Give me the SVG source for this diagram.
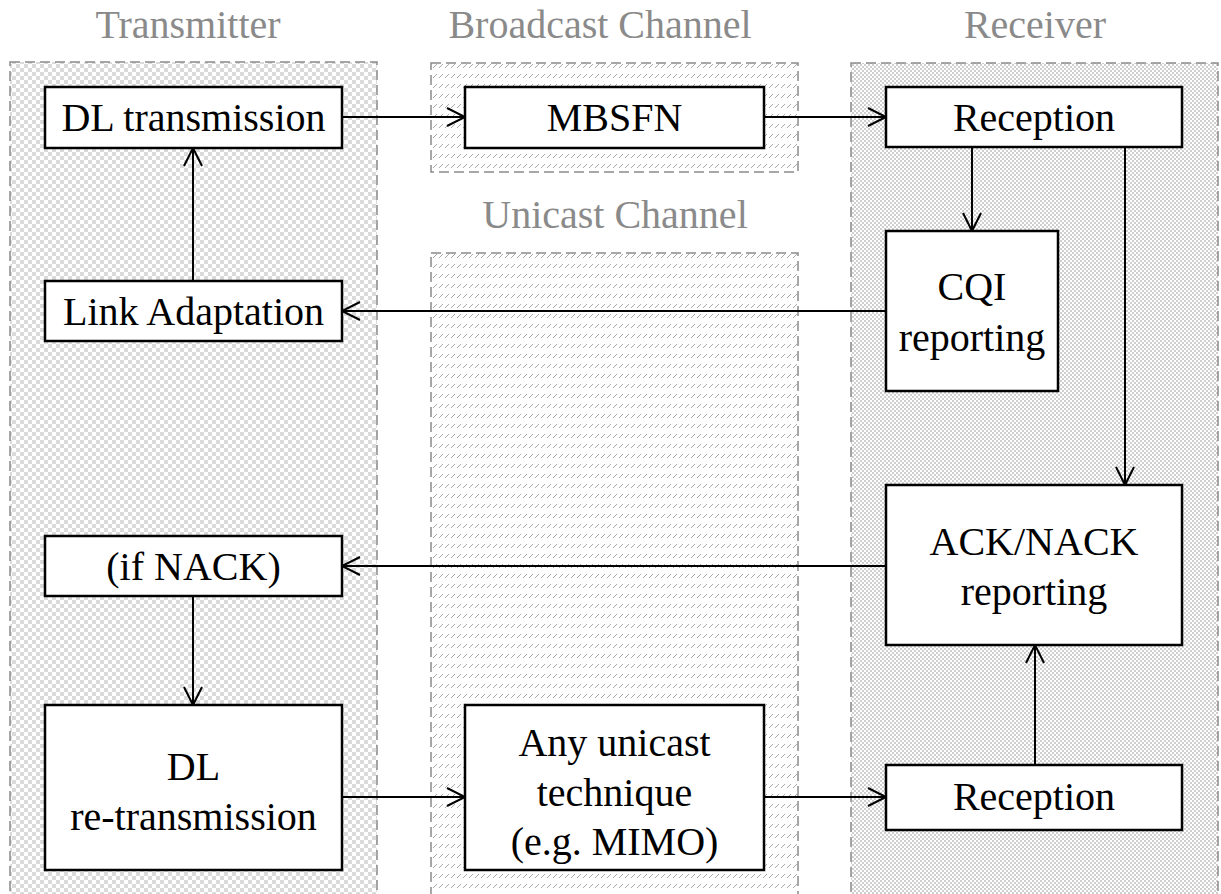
<svg xmlns="http://www.w3.org/2000/svg" width="1221" height="894" viewBox="0 0 1221 894">
<style>
.title{font-family:"Liberation Serif","Times New Roman","DejaVu Serif",serif;font-size:40px;fill:#8a8a8a;text-anchor:middle}
.lbl{font-family:"Liberation Serif","Times New Roman","DejaVu Serif",serif;font-size:40px;fill:#000;text-anchor:middle}
.box{fill:#fff;stroke:#000;stroke-width:2.5}
.cont{stroke:#8a8a8a;stroke-width:1.5;stroke-dasharray:10,5}
.conn{fill:none;stroke:#000;stroke-width:2;marker-end:url(#arr)}
</style>
<defs>
<pattern id="checker" width="8" height="8" patternUnits="userSpaceOnUse">
<rect width="8" height="8" fill="#fff"/>
<rect width="4" height="4" fill="#dadada"/>
<rect x="4" y="4" width="4" height="4" fill="#dadada"/>
</pattern>
<pattern id="hatch" width="6" height="10" patternUnits="userSpaceOnUse">
<rect width="6" height="10" fill="#fff"/>
<path d="M1,8 L5,4" stroke="#a8a8a8" stroke-width="1"/>
</pattern>
<pattern id="dots" width="4" height="4" patternUnits="userSpaceOnUse">
<rect width="4" height="4" fill="#fff"/>
<rect width="2" height="2" fill="#cfcfcf"/>
<rect x="2" y="2" width="2" height="2" fill="#cfcfcf"/>
</pattern>
<marker id="arr" markerWidth="24" markerHeight="24" refX="20" refY="10" orient="auto" markerUnits="userSpaceOnUse">
<path d="M2,1 L20,10 L2,19" fill="none" stroke="#000" stroke-width="2"/>
</marker>
</defs>
<rect width="1221" height="894" fill="#fff"/>

<g id="containers">
<rect class="cont" x="10" y="62" width="367" height="850" fill="url(#checker)"/>
<rect class="cont" x="431" y="63" width="367" height="109" fill="url(#hatch)"/>
<rect class="cont" x="431" y="253" width="367" height="660" fill="url(#hatch)"/>
<rect class="cont" x="851" y="63" width="367" height="850" fill="url(#dots)"/>
<text class="title" x="188" y="38">Transmitter</text>
<text class="title" x="600" y="38">Broadcast Channel</text>
<text class="title" x="1035" y="38">Receiver</text>
<text class="title" x="615" y="228">Unicast Channel</text>
</g>

<g id="connectors">
<path class="conn" d="M342,117 L465,117"/>
<path class="conn" d="M764,117 L886,117"/>
<path class="conn" d="M193,281 L193,148"/>
<path class="conn" d="M886,311 L342,311"/>
<path class="conn" d="M972,147 L972,231"/>
<path class="conn" d="M1125,147 L1125,485"/>
<path class="conn" d="M886,566 L342,566"/>
<path class="conn" d="M193,596 L193,705"/>
<path class="conn" d="M342,797 L465,797"/>
<path class="conn" d="M764,797 L886,797"/>
<path class="conn" d="M1035,765 L1035,645"/>
</g>

<g id="dl-transmission">
<rect class="box" x="45" y="87" width="297" height="61"/>
<text class="lbl" x="193.5" y="131">DL transmission</text>
</g>
<g id="link-adaptation">
<rect class="box" x="45" y="281" width="297" height="60"/>
<text class="lbl" x="193.5" y="325">Link Adaptation</text>
</g>
<g id="if-nack">
<rect class="box" x="45" y="536" width="297" height="60"/>
<text class="lbl" x="193.5" y="580">(if NACK)</text>
</g>
<g id="dl-retransmission">
<rect class="box" x="45" y="705" width="297" height="165"/>
<text class="lbl" x="193.5" y="780">DL</text>
<text class="lbl" x="193.5" y="830">re-transmission</text>
</g>
<g id="mbsfn">
<rect class="box" x="465" y="87" width="299" height="61"/>
<text class="lbl" x="614.5" y="131">MBSFN</text>
</g>
<g id="any-unicast">
<rect class="box" x="465" y="705" width="299" height="165"/>
<text class="lbl" x="614.5" y="756">Any unicast</text>
<text class="lbl" x="614.5" y="806">technique</text>
<text class="lbl" x="614.5" y="855">(e.g. MIMO)</text>
</g>
<g id="reception-top">
<rect class="box" x="886" y="87" width="296" height="60"/>
<text class="lbl" x="1034" y="131">Reception</text>
</g>
<g id="cqi-reporting">
<rect class="box" x="886" y="231" width="172" height="160"/>
<text class="lbl" x="972" y="300">CQI</text>
<text class="lbl" x="972" y="351">reporting</text>
</g>
<g id="ack-nack-reporting">
<rect class="box" x="886" y="485" width="296" height="160"/>
<text class="lbl" x="1034" y="555">ACK/NACK</text>
<text class="lbl" x="1034" y="605">reporting</text>
</g>
<g id="reception-bottom">
<rect class="box" x="886" y="765" width="296" height="65"/>
<text class="lbl" x="1034" y="810">Reception</text>
</g>
</svg>
